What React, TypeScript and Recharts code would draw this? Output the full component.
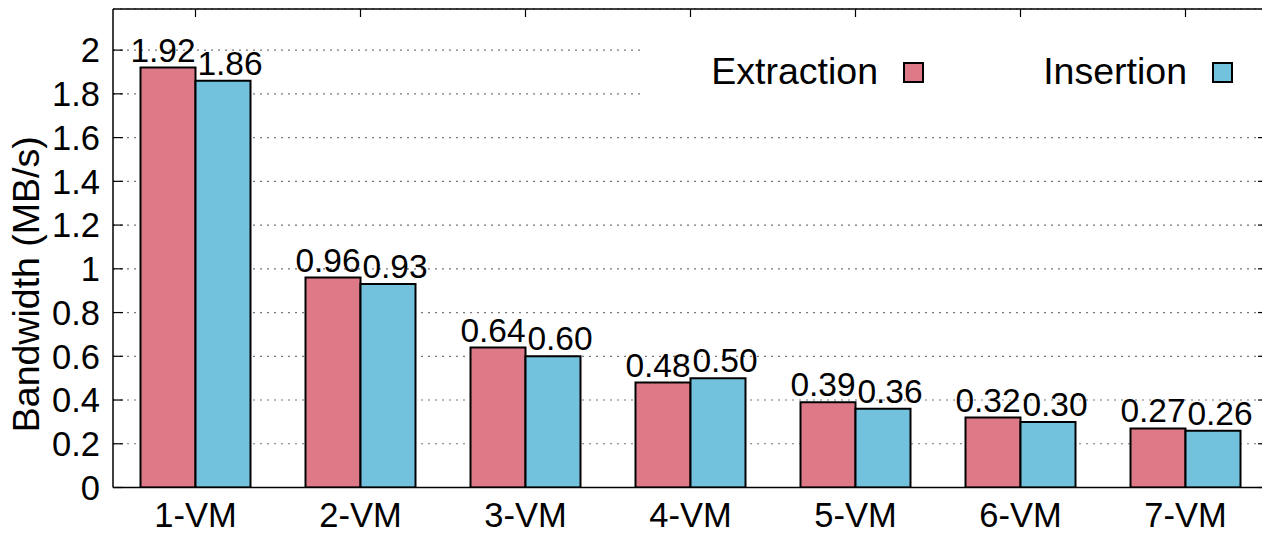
import React from 'react';
import { BarChart, Bar, XAxis, YAxis, CartesianGrid, Legend, LabelList } from 'recharts';

const categories = ['1-VM', '2-VM', '3-VM', '4-VM', '5-VM', '6-VM', '7-VM'];
const extraction = [1.92, 0.96, 0.64, 0.48, 0.39, 0.32, 0.27];
const insertion = [1.86, 0.93, 0.6, 0.5, 0.36, 0.3, 0.26];
const yTicks = [0, 0.2, 0.4, 0.6, 0.8, 1, 1.2, 1.4, 1.6, 1.8, 2];
const seriesNames = ['Extraction', 'Insertion'];
const seriesColors = ['#de7a87', '#72c2de'];

const data = categories.map((name, i) => ({
  name,
  extraction: extraction[i],
  insertion: insertion[i],
}));

const FONT = '"Liberation Sans", Arial, Helvetica, sans-serif';
const DOMAIN: [number, number] = [0, 2.188];

const EmptyTick = () => <g />;

const makeLabel = (dx: number) => (props: any) => {
  const { x, y, width, value } = props;
  return (
    <text
      x={Number(x) + Number(width) / 2 + dx}
      y={Number(y) - 6}
      textAnchor="middle"
      fontSize={33.5}
      fontFamily={FONT}
      fill="#000"
    >
      {Number(value).toFixed(2)}
    </text>
  );
};

const LegendContent = (props: any) => {
  const payload = (props.payload || []) as any[];
  const textRight = [237, 546];
  return (
    <svg width={627} height={70} style={{ display: 'block' }}>
      <rect x={0} y={0} width={627} height={70} fill="#fff" />
      {payload.map((p, i) => (
        <g key={i}>
          <text
            x={textRight[i]}
            y={48}
            textAnchor="end"
            fontSize={37.5}
            fontFamily={FONT}
            fill="#000"
          >
            {p.value}
          </text>
          <rect
            x={textRight[i] + 26}
            y={27}
            width={19}
            height={19}
            fill={p.color}
            stroke="#000"
            strokeWidth={2}
          />
        </g>
      ))}
    </svg>
  );
};

const YLabel = (props: any) => {
  const vb = props.viewBox || {};
  const cx = 39;
  const cy = Number(vb.y) + Number(vb.height) / 2 + 36;
  return (
    <text
      x={cx}
      y={cy}
      transform={`rotate(-90, ${cx}, ${cy})`}
      textAnchor="middle"
      fontSize={37.5}
      fontFamily={FONT}
      fill="#000"
    >
      Bandwidth (MB/s)
    </text>
  );
};

export default function App() {
  return (
    <div
      style={{
        position: 'absolute',
        left: 0,
        top: 0,
        width: 1262,
        height: 533,
        overflow: 'hidden',
        background: '#fff',
      }}
    >
      <BarChart
        width={1268}
        height={533}
        data={data}
        margin={{ top: 9, right: 0, bottom: 0, left: 0 }}
        barCategoryGap={27.5}
        barGap={0}
      >
        <CartesianGrid
          yAxisId="left"
          xAxisId="bottom"
          vertical={false}
          stroke="#777"
          strokeDasharray="2 5"
          strokeWidth={1.2}
        />
        <XAxis
          xAxisId="bottom"
          dataKey="name"
          height={45.5}
          tickSize={0}
          tickMargin={15}
          axisLine={{ stroke: '#000', strokeWidth: 1.5 }}
          tick={{ fontSize: 34.5, fontFamily: FONT, fill: '#000' }}
        />
        <XAxis
          xAxisId="top"
          dataKey="name"
          orientation="top"
          mirror
          height={10}
          tick={EmptyTick}
          tickSize={8}
          axisLine={{ stroke: '#000', strokeWidth: 1.5 }}
          tickLine={{ stroke: '#000', strokeWidth: 1.2 }}
        />
        <YAxis
          yAxisId="left"
          width={113}
          domain={DOMAIN}
          ticks={yTicks}
          interval={0}
          tickSize={0}
          tickMargin={13}
          allowDataOverflow
          axisLine={{ stroke: '#000', strokeWidth: 1.5 }}
          tick={{ fontSize: 34.5, fontFamily: FONT, fill: '#000' }}
          tickFormatter={(v: number) => String(v)}
          label={<YLabel />}
        />
        <YAxis
          yAxisId="leftTicks"
          orientation="left"
          mirror
          width={10}
          domain={DOMAIN}
          ticks={yTicks}
          interval={0}
          tick={EmptyTick}
          tickSize={10}
          axisLine={false}
          tickLine={{ stroke: '#000', strokeWidth: 1.2 }}
          allowDataOverflow
        />
        <YAxis
          yAxisId="rightTicks"
          orientation="right"
          mirror
          width={10}
          domain={DOMAIN}
          ticks={yTicks}
          interval={0}
          tick={EmptyTick}
          tickSize={10}
          axisLine={false}
          tickLine={{ stroke: '#000', strokeWidth: 1.2 }}
          allowDataOverflow
        />
        <Legend
          layout="horizontal"
          verticalAlign="middle"
          align="center"
          content={<LegendContent />}
          wrapperStyle={{ position: 'absolute', left: 641, top: 36, width: 627, height: 70 }}
        />
        <Bar
          xAxisId="bottom"
          yAxisId="left"
          dataKey="extraction"
          name={seriesNames[0]}
          fill={seriesColors[0]}
          stroke="#000"
          strokeWidth={2}
          isAnimationActive={false}
        >
          <LabelList dataKey="extraction" content={makeLabel(-5)} />
        </Bar>
        <Bar
          xAxisId="bottom"
          yAxisId="left"
          dataKey="insertion"
          name={seriesNames[1]}
          fill={seriesColors[1]}
          stroke="#000"
          strokeWidth={2}
          isAnimationActive={false}
        >
          <LabelList dataKey="insertion" content={makeLabel(7)} />
        </Bar>
      </BarChart>
    </div>
  );
}
